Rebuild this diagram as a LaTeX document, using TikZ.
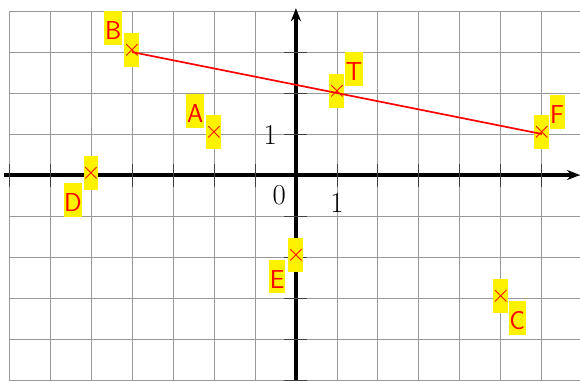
\documentclass[tikz,border=0pt]{standalone}
\usetikzlibrary{arrows.meta}
\begin{document}
\begin{tikzpicture}[
  gridline/.style={draw=black!40, line width=0.6pt},
  axis/.style={line width=2.3pt, -{Stealth[length=9pt,width=7pt]}},
  tickmark/.style={line width=0.6pt, draw=black!75},
  ticklabel/.style={font=\fontsize{20}{24}\selectfont, inner sep=0pt},
  ptlabel/.style={fill=yellow, text=red, font=\sffamily\fontsize{18}{22}\selectfont, inner xsep=0.4pt, inner ysep=0pt, text height=20pt, text depth=3.5pt},
  xbox/.style={fill=yellow, text=red, minimum width=10.4pt, minimum height=23.6pt, inner sep=0pt, font=\fontsize{18}{22}\selectfont},
  segment/.style={red, line width=1.2pt}
]
\useasboundingbox (-7.22,-5.02) rectangle (6.93,4.27);
\draw[gridline] (-7,-5) grid (6.93,4);
\draw[axis] (-7.12,0) -- (6.93,0);
\draw[axis] (0,-5.02) -- (0,4.07);
\foreach \x in {-7,...,-1,1,2,...,6} \draw[tickmark] (\x,-0.28) -- (\x,0.28);
\foreach \y in {-5,...,-1,1,2,3} \draw[tickmark] (-0.3,\y) -- (0.28,\y);
\node[ticklabel] (t0) at (-0.41,-0.49) {0};
\node[ticklabel] (tx1) at (1,-0.68) {1};
\node[ticklabel] (ty1) at (-0.63,0.98) {1};
% points
\coordinate (pA) at (-2,1);
\coordinate (pB) at (-4,3);
\coordinate (pC) at (5,-3);
\coordinate (pD) at (-5,0);
\coordinate (pE) at (0,-2);
\coordinate (pF) at (6,1);
\coordinate (pT) at (1,2);
% cross boxes
\foreach \p in {A,B,C,D,E,F,T}
  \node[xbox] (x\p) at ([yshift=1.5pt]p\p) {\makebox[0pt]{$\times$}};
% labels
\node[ptlabel] (lB) at (-4.46,3.585) {B};
\node[ptlabel] (lA) at (-2.46,1.56) {A};
\node[ptlabel] (lT) at (1.415,2.585) {T};
\node[ptlabel] (lF) at (6.37,1.537) {F};
\node[ptlabel] (lD) at (-5.44,-0.61) {D};
\node[ptlabel] (lE) at (-0.46,-2.476) {E};
\node[ptlabel] (lC) at (5.40,-3.49) {C};
% segment
\draw[segment] (pB) -- (pF);
\end{tikzpicture}
\end{document}
